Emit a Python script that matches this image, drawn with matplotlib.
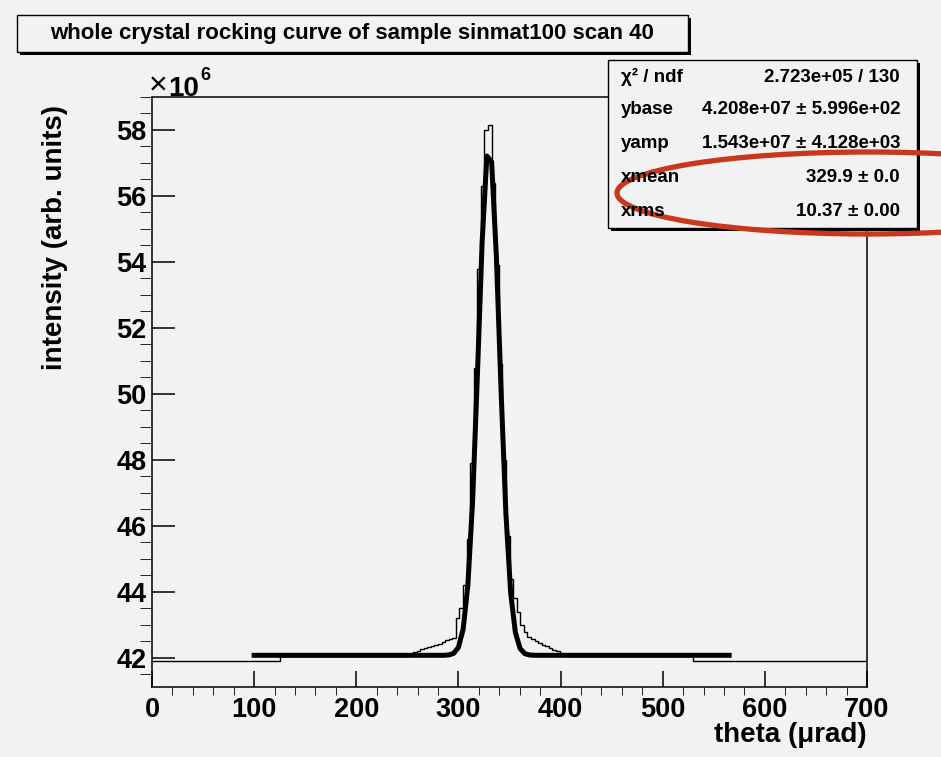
import numpy as np
import matplotlib.pyplot as plt
from matplotlib.patches import Rectangle, Ellipse
from matplotlib.transforms import IdentityTransform

plt.rcParams['font.family'] = ['Liberation Sans', 'DejaVu Sans']
plt.rcParams['font.weight'] = 'bold'

# histogram: baseline part + fine bins around the peak (values in 1e6)
edges_lo = [0, 125]
vals_lo = [41.90, 42.05]
peak_edges = np.arange(252, 406.1, 3.5)
peak_vals = [42.06, 42.17, 42.22, 42.27, 42.30, 42.33, 42.37, 42.39, 42.43, 42.48,
             42.53, 42.57, 42.61, 43.21, 43.50, 44.20, 45.60, 47.90, 50.80, 53.80,
             56.30, 58.00, 58.15, 56.40, 53.90, 50.90, 48.00, 45.70, 44.40, 43.82,
             43.39, 43.00, 42.80, 42.65, 42.58, 42.50, 42.44, 42.40, 42.35, 42.30,
             42.25, 42.20, 42.15, 42.06]
edges_hi = [530, 700]
vals_hi = [42.05, 41.90]

# fit result (from stats box)
ybase = 4.208e7
yamp = 1.543e7
xmean = 329.9
xrms = 10.37
fit_range = (100, 565)

stat_names = ['\u03c7\u00b2 / ndf', 'ybase', 'yamp', 'xmean', 'xrms']
stat_vals = ['2.723e+05 / 130', '4.208e+07 \u00b1 5.996e+02', '1.543e+07 \u00b1 4.128e+03',
             '329.9 \u00b1 0.0', '10.37 \u00b1 0.00']

title = 'whole crystal rocking curve of sample sinmat100 scan 40'

bg = '#f2f2f2'
W, H = 941, 757
fig = plt.figure(figsize=(W / 100, H / 100), dpi=100, facecolor=bg)
ax = fig.add_axes([152 / W, 1 - 687 / H, 715 / W, 590 / H])
ax.set_facecolor(bg)

edges = list(edges_lo) + list(peak_edges) + list(edges_hi)
vals = list(vals_lo) + list(peak_vals) + list(vals_hi)
ax.stairs(vals, edges, baseline=None, color='black', lw=1.0)

xf = np.linspace(fit_range[0], fit_range[1], 101)
yf = ybase + yamp * np.exp(-0.5 * ((xf - xmean) / xrms) ** 2)
ax.plot(xf, yf / 1e6, color='black', lw=3.6)

ax.set_xlim(0, 700)
ax.set_ylim(41.12, 59.0)
ax.set_xticks(np.arange(0, 701, 100))
ax.set_xticks(np.arange(0, 701, 20), minor=True)
ax.set_yticks(np.arange(42, 59, 2))
ax.set_yticks(np.arange(41.5, 59.01, 0.5), minor=True)
ax.tick_params(direction='in', top=False, right=False, width=1.1, labelsize=19.5)
ax.tick_params(axis='y', which='major', length=16.3, pad=4)
ax.tick_params(axis='y', which='minor', length=8.6)
ax.tick_params(axis='x', which='major', length=11.5, pad=7)
ax.tick_params(axis='x', which='minor', length=5.8)
for lab in ax.get_xticklabels() + ax.get_yticklabels():
    lab.set_fontweight('bold')
for s in ax.spines.values():
    s.set_linewidth(1.1)

pix = IdentityTransform()


def T(x, y, s, **kw):
    fig.text(x / W, 1 - y / H, s, **kw)


T(149, 94, '\u00d7', fontsize=23, fontweight='normal', va='baseline')
T(168, 96, '10', fontsize=20, fontweight='bold', va='baseline')
T(200, 80, '6', fontsize=13, fontweight='bold', va='baseline')
T(867, 722, 'theta (\u03bcrad)', fontsize=20, fontweight='bold', ha='right', va='top')
T(55, 105, 'intensity (arb. units)', fontsize=20, fontweight='bold', rotation=90,
  ha='center', va='top')


def box(x0, y0, x1, y1):
    fig.add_artist(Rectangle((x0 + 3, H - y1 - 3), x1 - x0, y1 - y0, transform=pix,
                             facecolor='black', edgecolor='black', lw=0))
    fig.add_artist(Rectangle((x0, H - y1), x1 - x0, y1 - y0, transform=pix,
                             facecolor=bg, edgecolor='black', lw=1.0))


box(17, 15, 688, 52)
T(352, 34, title, fontsize=16, fontweight='bold', ha='center', va='center')

box(608, 60, 917, 228)
rows = [77, 110, 143, 178, 212]
for y, n, v in zip(rows, stat_names, stat_vals):
    T(621, y, n, fontsize=13.5, fontweight='bold', va='center')
    T(900, y, v, fontsize=13.5, fontweight='bold', va='center', ha='right')

fig.add_artist(Ellipse((868, H - 193), 502, 82, transform=pix, fill=False,
                       edgecolor='#c9381c', lw=3.8))

fig.savefig('out.png', dpi=100, facecolor=bg)
